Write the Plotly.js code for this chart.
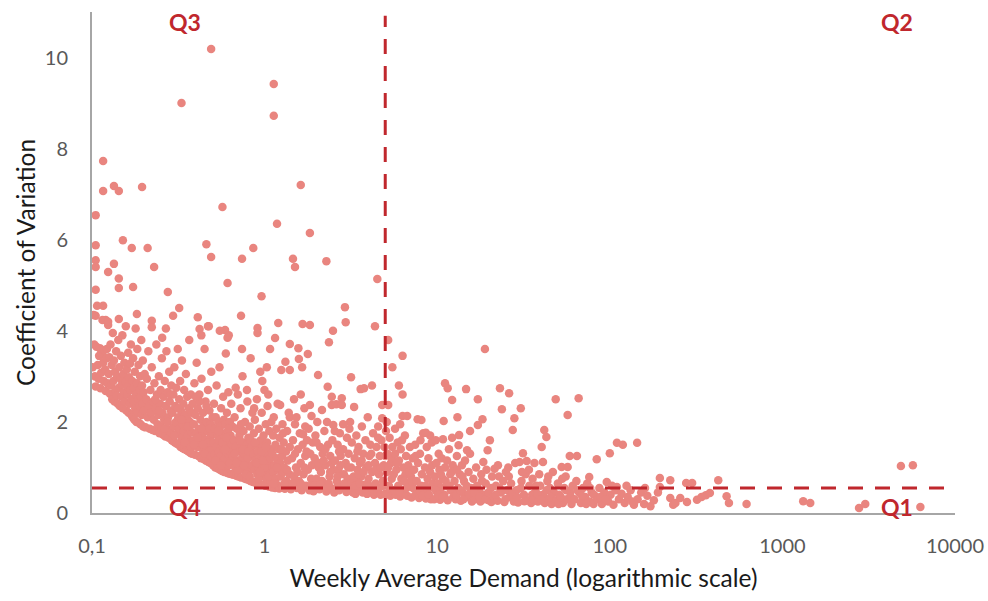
<!DOCTYPE html>
<html>
<head>
<meta charset="utf-8">
<script src="https://cdn.plot.ly/plotly-3.0.1.min.js"></script>
<style>html,body{margin:0;padding:0;background:#fff;}#chart{width:988px;height:601px;}</style>
</head>
<body>
<div id="chart"></div>
<script>
// Weekly average demand (x) vs coefficient of variation (y)
const outliers = [[0.49,10.19],[0.33,9.0],[1.13,9.42],[1.13,8.72],[0.116,7.73],[0.116,7.07],[0.134,7.18],[0.143,7.07],[0.195,7.16],[1.62,7.2],[0.57,6.72],[0.105,6.54],[1.18,6.35],[1.83,6.15],[0.151,5.99],[0.46,5.9],[0.105,5.88],[0.17,5.82],[0.21,5.82],[0.86,5.82],[0.49,5.62],[0.105,5.55],[0.74,5.58],[1.46,5.58],[2.28,5.53],[0.105,5.4],[0.229,5.4],[1.5,5.4],[0.134,5.47],[0.124,5.29],[0.143,5.15],[0.61,5.05],[4.5,5.14],[0.173,4.96],[0.143,4.94],[0.105,4.9],[0.275,4.85],[0.96,4.76],[0.116,4.55],[0.32,4.5],[2.92,4.52],[0.105,4.33],[0.295,4.33],[0.73,4.33],[0.41,4.3],[0.182,4.37],[0.12,4.24],[0.143,4.26],[0.222,4.22],[2.95,4.19],[1.2,4.17],[1.66,4.15],[1.83,4.13],[0.124,4.13],[0.47,4.1],[4.36,4.1],[0.222,4.08],[0.91,4.06],[0.42,4.04],[0.59,4.02],[2.49,4.0],[0.62,3.9]];
const groupA = [[0.101,3.2],[0.103,3.7],[0.102,4.35],[0.105,2.78],[0.104,3.0],[0.106,3.65],[0.108,3.25],[0.107,4.55],[0.109,2.95],[0.11,3.45],[0.111,3.62],[0.112,2.74],[0.113,3.08],[0.114,3.5],[0.115,4.24],[0.116,3.3],[0.117,2.9],[0.118,3.58],[0.119,3.15],[0.12,2.68],[0.121,3.4],[0.122,3.6],[0.123,2.85],[0.124,4.2],[0.125,3.05],[0.126,3.42],[0.127,2.62],[0.128,3.7],[0.129,2.8],[0.13,3.25]];
const groupB = [[0.131,2.5],[0.132,3.95],[0.133,2.9],[0.134,3.35],[0.135,2.45],[0.136,3.1],[0.137,2.7],[0.138,3.55],[0.139,2.58],[0.14,3.0],[0.141,2.4],[0.142,3.8],[0.143,2.75],[0.144,3.2],[0.145,2.35],[0.146,2.95],[0.147,3.45],[0.148,2.55],[0.149,2.82],[0.15,3.9],[0.151,2.3],[0.152,3.05],[0.153,2.65],[0.154,3.3],[0.155,2.45],[0.156,2.88],[0.157,4.1],[0.158,2.25],[0.159,3.15],[0.16,2.6],[0.161,2.78],[0.162,3.52],[0.163,2.2],[0.164,2.98],[0.165,2.4],[0.166,3.28],[0.167,2.7],[0.168,3.7],[0.169,2.15],[0.17,2.5]];
const groupC = [[0.171,2.9],[0.172,2.1],[0.173,3.4],[0.174,2.45],[0.175,2.75],[0.176,2.05],[0.177,3.1],[0.178,2.3],[0.179,4.05],[0.18,2.6],[0.181,2.0],[0.182,2.85],[0.183,3.6],[0.184,2.2],[0.185,2.5],[0.186,3.25],[0.187,1.98],[0.188,2.7],[0.189,2.35],[0.19,3.0],[0.191,1.95],[0.192,2.55],[0.193,3.8],[0.194,2.15],[0.195,2.8],[0.196,2.4],[0.197,3.35],[0.198,1.9],[0.199,2.65],[0.2,2.25],[0.202,3.05],[0.204,1.88],[0.206,2.5],[0.208,2.95],[0.21,2.1],[0.212,3.55],[0.214,2.35],[0.216,1.85],[0.218,2.7],[0.22,2.2]];
const groupD = [[0.222,3.2],[0.224,1.82],[0.226,2.45],[0.228,2.05],[0.23,2.85],[0.232,1.8],[0.234,2.3],[0.236,3.7],[0.238,2.6],[0.24,1.95],[0.242,2.15],[0.244,3.0],[0.246,1.75],[0.248,2.4],[0.25,2.7],[0.252,1.9],[0.254,3.4],[0.256,2.2],[0.258,1.72],[0.26,2.55],[0.262,2.05],[0.264,2.9],[0.266,1.68],[0.268,2.35],[0.27,3.55],[0.272,1.85],[0.274,2.65],[0.276,2.1],[0.278,1.65],[0.28,3.1],[0.282,2.45],[0.284,1.78],[0.286,2.25],[0.288,2.8],[0.29,1.6],[0.233,2.5],[0.245,2.25],[0.263,1.85],[0.275,2.0],[0.285,2.6],[0.255,3.85],[0.268,4.05]];
const groupE = [[0.292,2.2],[0.294,1.58],[0.296,2.6],[0.298,1.9],[0.3,3.2],[0.302,1.55],[0.304,2.35],[0.306,2.0],[0.308,2.75],[0.31,1.52],[0.312,1.75],[0.314,3.6],[0.316,2.1],[0.318,1.5],[0.32,2.5],[0.322,1.85],[0.324,2.9],[0.326,1.45],[0.328,2.25],[0.33,1.65],[0.332,3.35],[0.334,1.95],[0.336,1.42],[0.338,2.4],[0.34,1.8],[0.342,2.7],[0.344,1.4],[0.346,2.15],[0.348,1.6],[0.35,3.05],[0.352,1.9],[0.354,1.38],[0.356,2.55],[0.358,1.7],[0.36,2.05],[0.362,1.35],[0.364,2.3],[0.366,3.8],[0.368,1.55],[0.37,2.0],[0.372,1.32],[0.374,2.6],[0.376,1.78],[0.378,2.2],[0.3,1.7],[0.315,2.3],[0.33,2.05],[0.345,1.55],[0.36,1.9],[0.375,1.45]];
const groupF = [[0.38,1.3],[0.383,2.4],[0.386,1.6],[0.389,1.95],[0.392,2.85],[0.395,1.28],[0.398,2.15],[0.401,1.75],[0.404,3.3],[0.407,1.45],[0.41,2.3],[0.413,1.25],[0.416,1.85],[0.419,2.6],[0.422,1.55],[0.425,2.05],[0.428,1.2],[0.431,2.95],[0.434,1.7],[0.437,1.4],[0.44,2.2],[0.443,1.9],[0.446,1.18],[0.449,3.6],[0.452,1.6],[0.455,2.45],[0.458,1.15],[0.461,2.0],[0.464,1.35],[0.467,1.8],[0.47,2.7],[0.473,1.12],[0.476,1.5],[0.479,2.25],[0.482,1.65],[0.485,1.1],[0.488,1.95],[0.491,3.1],[0.494,1.4],[0.497,1.75],[0.5,2.1],[0.39,1.5],[0.41,1.65],[0.43,1.85],[0.45,1.3],[0.47,1.55],[0.49,1.25],[0.42,2.45],[0.46,2.35],[0.44,1.5],[0.4,2.55],[0.48,1.85],[0.43,3.9],[0.475,4.1]];
const groupG = [[0.503,1.05],[0.506,1.55],[0.509,2.4],[0.512,1.3],[0.515,1.85],[0.518,1.0],[0.521,2.1],[0.524,1.45],[0.527,2.8],[0.53,1.2],[0.533,1.7],[0.536,0.98],[0.539,2.0],[0.542,1.35],[0.545,1.6],[0.548,3.2],[0.551,0.95],[0.554,1.9],[0.557,1.25],[0.56,2.3],[0.563,1.5],[0.566,0.92],[0.569,1.75],[0.572,1.1],[0.575,2.55],[0.578,1.4],[0.581,2.05],[0.584,0.9],[0.587,1.65],[0.59,1.2],[0.593,1.95],[0.596,3.5],[0.599,1.0],[0.602,1.45],[0.605,2.2],[0.608,0.88],[0.611,1.8],[0.614,1.3],[0.617,2.65],[0.62,1.05],[0.623,1.55],[0.626,0.86],[0.629,2.0],[0.632,1.35],[0.635,1.7],[0.638,1.15],[0.641,2.4],[0.644,0.85],[0.647,1.5],[0.65,1.9],[0.52,1.15],[0.54,1.8],[0.57,1.55],[0.6,1.65],[0.63,1.1],[0.56,1.05],[0.59,1.4],[0.62,1.85],[0.55,4.0],[0.61,3.85]];
const groupH = [[0.655,1.25],[0.66,0.84],[0.665,1.6],[0.67,2.1],[0.675,1.0],[0.68,1.45],[0.685,0.82],[0.69,1.85],[0.695,1.15],[0.7,2.6],[0.705,0.8],[0.71,1.35],[0.715,1.7],[0.72,1.05],[0.725,2.3],[0.73,0.78],[0.735,1.5],[0.74,1.2],[0.745,3.0],[0.75,0.95],[0.755,1.8],[0.76,1.3],[0.765,0.76],[0.77,2.0],[0.775,1.1],[0.78,1.55],[0.785,0.74],[0.79,1.4],[0.795,2.45],[0.8,0.9],[0.805,1.65],[0.81,1.0],[0.815,0.72],[0.82,1.9],[0.825,1.25],[0.83,3.4],[0.835,0.7],[0.84,1.45],[0.845,1.05],[0.85,2.2],[0.67,1.3],[0.7,0.95],[0.72,1.6],[0.75,1.4],[0.78,0.85],[0.8,1.2],[0.83,1.6],[0.69,1.1],[0.76,1.05],[0.81,1.35],[0.73,1.95],[0.82,0.8],[0.68,2.75],[0.79,2.7],[0.74,3.6]];
const groupI = [[0.855,0.68],[0.86,1.3],[0.866,1.75],[0.872,0.95],[0.878,2.05],[0.884,1.15],[0.89,0.66],[0.896,1.5],[0.902,2.5],[0.908,0.85],[0.914,1.35],[0.92,1.0],[0.926,1.85],[0.932,0.64],[0.938,1.2],[0.944,3.1],[0.95,1.6],[0.956,0.8],[0.962,2.2],[0.968,1.05],[0.974,0.62],[0.98,1.45],[0.986,1.7],[0.992,0.9],[0.998,2.7],[1.004,1.25],[1.01,0.6],[1.016,1.95],[1.022,1.1],[1.028,0.75],[1.034,1.55],[1.04,2.35],[1.046,0.95],[1.052,1.3],[1.058,0.58],[1.064,1.8],[1.07,1.05],[1.076,3.6],[1.082,0.7],[1.088,1.4],[1.094,2.0],[1.1,0.85],[0.88,1.55],[0.92,0.75],[0.96,1.35],[1.0,1.0],[1.04,1.15],[0.9,1.1],[0.94,0.9],[0.98,1.15],[1.02,1.45],[1.06,0.8],[1.08,1.2],[0.87,2.3],[0.97,2.9],[1.05,2.6],[0.91,3.95],[1.03,3.2]];
const groupJ = [[1.105,0.56],[1.11,1.3],[1.12,1.7],[1.125,0.9],[1.13,2.1],[1.14,1.05],[1.15,0.55],[1.155,1.5],[1.16,0.75],[1.17,1.85],[1.175,1.2],[1.18,0.62],[1.19,2.4],[1.2,0.95],[1.21,1.4],[1.215,0.54],[1.22,1.65],[1.23,1.1],[1.24,0.8],[1.25,3.14],[1.26,1.25],[1.265,0.58],[1.27,1.95],[1.28,0.9],[1.29,1.55],[1.3,1.0],[1.31,0.53],[1.32,3.32],[1.33,1.35],[1.34,0.7],[1.35,1.8],[1.36,1.15],[1.37,0.6],[1.38,2.2],[1.39,0.85],[1.4,1.45],[1.15,3.84],[1.23,2.37],[1.4,2.1],[1.4,3.71],[1.4,3.14],[1.13,0.65],[1.18,1.0],[1.25,1.4],[1.3,0.65],[1.35,0.95],[1.28,1.75]];
const groupK = [[1.42,0.52],[1.44,1.2],[1.46,1.6],[1.48,0.8],[1.5,1.95],[1.52,1.0],[1.53,2.1],[1.54,0.55],[1.56,1.4],[1.57,3.62],[1.58,0.7],[1.58,3.38],[1.6,1.75],[1.62,1.1],[1.64,0.5],[1.65,3.2],[1.66,1.5],[1.67,1.73],[1.68,0.85],[1.7,2.3],[1.72,1.25],[1.74,0.6],[1.76,1.6],[1.78,3.49],[1.78,0.95],[1.8,1.85],[1.82,0.5],[1.83,2.37],[1.84,1.3],[1.86,0.75],[1.87,2.13],[1.88,1.05],[1.9,1.55],[1.45,0.65],[1.5,1.3],[1.55,0.9],[1.62,0.65],[1.7,1.0],[1.75,1.35],[1.85,0.6],[1.48,2.5],[1.62,2.6],[1.72,1.9]];
const groupL = [[1.92,0.48],[1.95,1.2],[1.97,1.7],[2.0,0.75],[2.02,2.0],[2.04,3.03],[2.06,1.0],[2.08,0.52],[2.1,1.45],[2.12,0.9],[2.15,2.26],[2.17,1.3],[2.2,0.6],[2.22,1.8],[2.25,1.05],[2.28,0.47],[2.3,2.0],[2.32,2.77],[2.33,1.5],[2.36,3.75],[2.38,0.8],[2.4,1.25],[2.42,0.55],[2.45,2.55],[2.45,2.37],[2.47,1.6],[2.5,1.93],[2.5,0.95],[1.95,0.6],[2.05,1.1],[2.15,0.7],[2.25,1.4],[2.35,0.65],[2.45,1.1],[2.0,1.55],[2.2,1.15],[2.4,0.9],[2.1,0.62],[2.3,0.55]];
const groupM = [[2.53,0.45],[2.56,1.15],[2.6,2.39],[2.62,0.7],[2.65,1.5],[2.68,0.95],[2.7,0.5],[2.73,1.75],[2.76,1.25],[2.8,2.52],[2.8,2.37],[2.82,0.6],[2.85,1.4],[2.88,0.85],[2.95,1.1],[2.98,0.46],[3.0,1.65],[3.03,0.75],[3.07,1.3],[3.1,0.55],[3.13,2.0],[3.17,2.98],[3.17,1.0],[3.2,1.55],[3.25,0.45],[3.28,0.8],[2.6,0.55],[2.7,1.35],[2.9,0.65],[3.05,1.0],[3.2,0.65],[2.75,1.05],[2.55,1.8],[3.1,1.85],[2.65,0.8],[3.0,0.5],[2.85,1.95]];
const groupN = [[3.3,2.33],[3.33,1.2],[3.36,0.42],[3.4,1.7],[3.43,0.7],[3.46,0.95],[3.5,1.45],[3.53,0.5],[3.57,1.1],[3.6,2.72],[3.62,0.8],[3.66,1.9],[3.7,0.45],[3.73,1.3],[3.77,2.74],[3.8,0.62],[3.84,1.6],[3.88,1.0],[3.92,0.42],[3.96,2.1],[4.0,0.75],[4.05,1.25],[4.1,1.5],[4.15,0.55],[4.19,2.8],[4.2,0.9],[4.25,1.75],[4.3,0.4],[3.35,0.6],[3.5,0.85],[3.65,1.15],[3.85,0.55],[4.0,1.05],[4.15,1.3],[3.45,1.35],[3.75,0.9],[4.05,0.6],[3.55,0.65]];
const groupO = [[4.36,1.1],[4.4,0.65],[4.45,1.45],[4.5,0.45],[4.55,1.9],[4.6,0.85],[4.65,1.25],[4.7,0.4],[4.75,1.6],[4.8,2.37],[4.8,2.08],[4.85,0.7],[4.9,1.05],[4.95,1.45],[5.0,0.42],[5.05,1.8],[5.1,0.9],[5.15,1.3],[5.2,3.8],[5.2,2.37],[5.25,0.6],[5.3,1.65],[5.35,0.38],[5.4,1.1],[5.45,0.75],[5.5,3.2],[5.5,1.45],[5.55,0.5],[4.4,0.95],[4.6,0.55],[4.9,0.6],[5.2,1.0],[5.45,1.2],[4.7,1.0],[5.0,1.25],[5.3,0.55],[4.55,1.65],[5.1,2.0]];
const groupP = [[5.6,0.85],[5.7,1.85],[5.7,1.3],[5.75,0.4],[5.8,0.95],[5.9,1.55],[5.95,0.6],[6.0,2.8],[6.0,1.15],[6.1,0.36],[6.15,1.4],[6.2,0.75],[6.3,3.45],[6.3,2.6],[6.3,2.13],[6.35,1.0],[6.4,0.5],[6.5,1.7],[6.55,0.85],[6.6,1.25],[6.7,2.13],[6.7,0.38],[6.8,1.05],[6.85,0.65],[6.95,1.45],[7.05,0.8],[7.1,0.34],[7.2,1.2],[7.25,0.55],[5.65,0.5],[5.85,1.1],[6.05,0.45],[6.25,1.6],[6.45,0.7],[6.65,0.55],[6.9,0.9],[7.15,0.7],[6.1,1.95]];
const groupQ = [[7.35,0.95],[7.45,1.5],[7.5,0.4],[7.6,0.7],[7.7,2.06],[7.75,1.1],[7.85,0.33],[7.95,1.3],[8.05,0.6],[8.15,0.85],[8.3,1.75],[8.4,0.45],[8.5,1.0],[8.6,0.32],[8.7,1.45],[8.8,0.75],[8.9,1.2],[9.0,0.55],[9.1,0.9],[9.2,0.3],[9.3,1.55],[9.4,0.65],[7.5,1.25],[7.9,0.5],[8.2,0.38],[8.55,0.6],[8.95,0.4],[9.35,1.05],[8.0,1.6],[9.1,1.7],[8.1,2.04],[8.6,1.76]];
const groupR = [[9.6,0.3],[9.7,0.8],[9.8,1.6],[9.9,1.1],[10.0,0.45],[10.1,0.65],[10.2,1.3],[10.3,0.95],[10.4,0.29],[10.5,0.55],[10.6,1.2],[10.8,1.62],[10.8,0.75],[10.9,2.02],[11.0,0.4],[11.1,2.85],[11.1,1.0],[11.3,0.6],[11.5,2.74],[11.5,0.28],[11.7,1.4],[11.9,0.85],[12.0,0.5],[12.2,2.48],[12.2,1.65],[12.3,1.05],[12.4,0.35],[9.8,0.5],[10.2,0.4],[10.7,0.35],[11.2,0.7],[11.8,0.6],[12.1,0.9],[10.5,0.85],[11.4,1.15]];
const groupS = [[12.6,0.7],[12.8,0.3],[13.0,1.25],[13.1,2.1],[13.2,0.55],[13.3,1.49],[13.4,1.71],[13.5,0.85],[13.7,0.27],[13.9,1.05],[14.1,0.45],[14.3,0.7],[14.5,1.15],[14.7,2.72],[14.9,1.38],[15.0,0.35],[15.2,0.9],[15.5,1.8],[15.5,1.3],[15.7,0.55],[15.9,0.25],[12.9,0.4],[13.6,0.5],[14.2,0.3],[14.8,0.6],[15.3,0.42],[13.0,0.95],[14.0,0.8]];
const groupT = [[16.2,0.75],[16.5,0.3],[16.8,1.0],[17.2,2.5],[17.2,1.93],[17.5,0.5],[17.8,0.25],[18.0,0.85],[18.3,2.06],[18.5,1.12],[18.7,0.4],[18.9,3.6],[19.1,0.65],[19.3,0.95],[19.6,1.38],[19.9,0.28],[20.2,1.6],[20.5,0.55],[20.8,0.8],[16.4,0.45],[17.0,0.6],[17.6,0.35],[18.2,0.7],[19.0,0.3],[19.8,0.45],[20.6,0.24]];
const groupU = [[21.2,0.35],[21.5,0.97],[21.9,0.6],[22.4,0.27],[22.8,0.8],[23.1,2.74],[23.4,0.45],[23.7,2.28],[24.1,0.7],[24.5,0.24],[25.0,0.9],[25.5,0.5],[26.1,2.63],[26.3,0.35],[26.8,0.65],[27.4,1.82],[27.8,0.25],[28.0,2.08],[28.3,1.1],[21.8,0.4],[23.0,0.55],[24.8,0.3],[26.0,0.8],[27.2,0.45],[22.5,1.05],[25.8,1.0]];
const groupV = [[28.8,0.5],[29.4,0.23],[30.0,1.12],[30.5,2.3],[30.8,0.7],[31.4,1.31],[31.8,0.4],[32.5,0.85],[33.0,1.14],[33.5,0.28],[34.2,0.6],[35.0,0.22],[35.7,0.75],[36.6,1.1],[36.8,0.45],[29.0,0.35],[30.5,0.55],[32.0,0.26],[34.0,0.95],[35.5,0.4],[31.0,0.9],[36.0,0.3]];
const groupW = [[37.5,0.6],[38.3,0.25],[39.0,0.85],[40.3,1.45],[41.0,1.12],[41.0,0.4],[41.7,1.82],[42.0,0.22],[42.9,1.67],[43.5,0.7],[44.3,0.3],[45.0,0.55],[46.0,0.2],[46.8,0.9],[47.5,0.45],[38.0,0.42],[40.0,0.3],[43.0,0.5],[45.5,0.35],[39.5,0.6],[44.0,0.8],[48.6,2.5]];
const groupX = [[49.0,0.28],[50.0,0.65],[51.0,0.4],[52.6,1.01],[53.5,0.22],[54.5,0.55],[55.5,0.8],[56.5,0.3],[57.0,2.15],[57.0,1.01],[58.6,1.25],[59.0,0.45],[60.0,0.2],[61.0,0.6],[50.5,0.2],[53.0,0.75],[56.0,0.5],[59.5,0.35],[52.0,0.35]];
const groupY = [[62.5,0.3],[64.0,0.7],[64.5,1.25],[66.0,2.52],[66.5,0.45],[68.0,0.22],[70.0,0.55],[72.0,0.35],[74.0,0.65],[76.0,0.79],[76.5,0.25],[78.5,0.45],[80.5,0.2],[65.0,0.5],[69.0,0.38],[73.0,0.2],[77.0,0.55],[81.0,0.4]];
const groupZ = [[84.0,1.18],[84.5,0.3],[87.0,0.55],[90.0,0.2],[93.0,0.45],[96.0,0.68],[98.0,0.25],[100.0,1.31],[101.0,0.4],[105.0,0.18],[108.0,0.5],[110.0,1.54],[110.0,0.57],[113.0,0.3],[117.0,0.42],[119.0,1.5],[122.0,0.22],[127.0,0.35],[132.0,0.5],[138.0,0.18],[144.0,1.54],[145.0,0.3],[152.0,0.45],[158.0,0.2],[165.0,0.38],[172.0,0.15],[180.0,0.28],[88.0,0.35],[95.0,0.3],[103.0,0.6],[125.0,0.6],[135.0,0.25],[160.0,0.55],[190.0,0.45]];
const groupFar = [[195,0.77],[195,0.57],[224,0.72],[224,0.33],[233,0.18],[240,0.22],[256,0.33],[280,0.24],[277,0.66],[300,0.66],[320,0.29],[340,0.35],[360,0.39],[380,0.44],[425,0.72],[475,0.37],[490,0.22],[620,0.2],[1320,0.26],[1450,0.22],[2780,0.11],[3020,0.2],[4860,1.03],[5700,1.05],[6300,0.13]];

const demandThreshold = 5;     // vertical split
const cvThreshold = 0.55;      // horizontal split
const xTickVals = [0.1, 1, 10, 100, 1000, 10000];
const xTickText = ["0,1", "1", "10", "100", "1000", "10000"];
const quadrantLabels = ["Q3", "Q2", "Q4", "Q1"];

const allPts = [].concat(outliers, groupA, groupB, groupC, groupD, groupE, groupF, groupG, groupH, groupI, groupJ, groupK, groupL, groupM, groupN, groupO, groupP, groupQ, groupR, groupS, groupT, groupU, groupV, groupW, groupX, groupY, groupZ, groupFar);
const xs = allPts.map(p => p[0]);
const ys = allPts.map(p => p[1]);

const dashColor = '#C0272D';
const traces = [
  {type:'scatter', mode:'markers', x: xs, y: ys,
   marker:{size:8.5, color:'#E9857F', line:{width:0}}, hoverinfo:'x+y'},
  {type:'scatter', mode:'lines', x:[demandThreshold, demandThreshold], y:[0, 10.92],
   line:{color:dashColor, width:3, dash:'15px,12px'}, hoverinfo:'skip'},
  {type:'scatter', mode:'lines', x:[0.1, 10000], y:[cvThreshold, cvThreshold],
   line:{color:dashColor, width:3, dash:'15px,12px'}, hoverinfo:'skip'}
];

const qFont = {family:'Lato, "Open Sans", sans-serif', size:23, color:dashColor, weight:'bold'};
const qPos = [[0.108, 0.98], [0.933, 0.98], [0.108, 0.012], [0.933, 0.012]];
const layout = {
  width:988, height:601,
  margin:{l:92, r:33, t:12, b:88},
  paper_bgcolor:'#ffffff', plot_bgcolor:'#ffffff',
  showlegend:false,
  font:{family:'Lato, "Open Sans", sans-serif', color:'#595959'},
  xaxis:{type:'log', range:[-1, 4], tickvals:xTickVals, ticktext:xTickText,
    showgrid:false, zeroline:false, showline:true, linecolor:'#a6a6a6', linewidth:2,
    ticks:'', tickfont:{size:20, color:'#595959'}, ticklabelstandoff:14,
    title:{text:'Weekly Average Demand (logarithmic scale)', font:{size:24.5, color:'#1a1a1a'}, standoff:14}},
  yaxis:{range:[0, 11], tickvals:[0,2,4,6,8,10], showgrid:false, zeroline:false,
    showline:true, linecolor:'#a6a6a6', linewidth:2, ticks:'',
    tickfont:{size:20, color:'#595959'}, ticklabelstandoff:18,
    title:{text:'Coefficient of Variation', font:{size:24.5, color:'#1a1a1a'}, standoff:2}},
  annotations: quadrantLabels.map((q, i) => ({
    xref:'paper', yref:'paper', x:qPos[i][0], y:qPos[i][1], xanchor:'center', yanchor:'middle',
    text:'<b>'+q+'</b>', showarrow:false, font:qFont}))
};
Plotly.newPlot('chart', traces, layout, {displayModeBar:false, staticPlot:true});
</script>
</body>
</html>
